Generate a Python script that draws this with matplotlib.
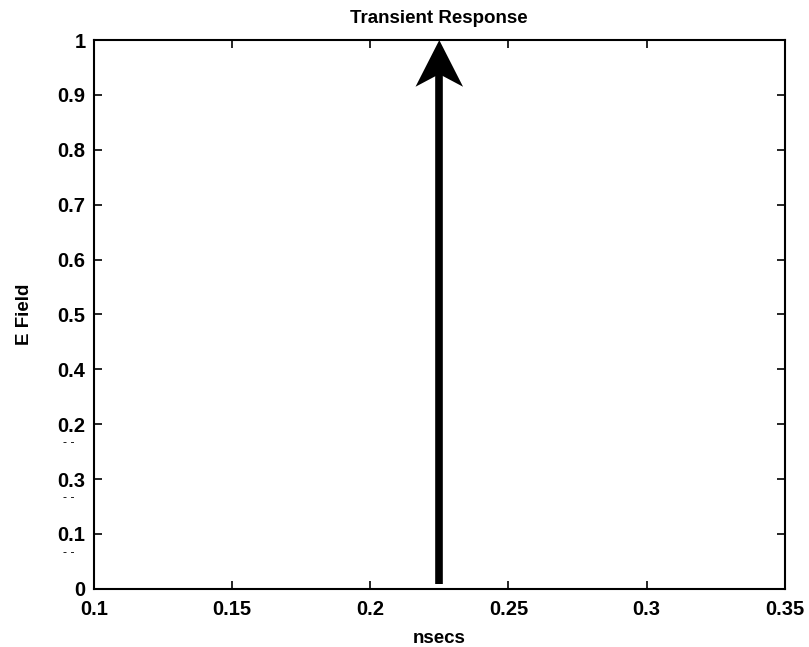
import matplotlib
matplotlib.use('Agg')
import matplotlib.pyplot as plt
import numpy as np

plt.rcParams['font.family'] = ['Liberation Sans', 'DejaVu Sans']

# impulse (arrow) data
impulse_t = [0.225]
impulse_amp = [1.0]

x_ticks = [0.1, 0.15, 0.2, 0.25, 0.3, 0.35]
x_labels = ['0.1', '0.15', '0.2', '0.25', '0.3', '0.35']
y_ticks = [0, 0.1, 0.2, 0.3, 0.4, 0.5, 0.6, 0.7, 0.8, 0.9, 1.0]
# labels as printed in the scanned figure (0.2/0.3 swapped)
y_labels = ['0', '0.1', '0.3', '0.2', '0.4', '0.5', '0.6', '0.7', '0.8', '0.9', '1']

fig = plt.figure(figsize=(8.09, 6.47), dpi=100)
ax = fig.add_axes([0.116, 0.090, 0.854, 0.848])

ax.set_xlim(0.1, 0.35)
ax.set_ylim(0, 1)

# arrowhead size in data units
head_w = 0.0086
head_len = 0.085
notch = 0.062
for t, a in zip(impulse_t, impulse_amp):
    ax.plot([t, t], [0.008, a - notch + 0.01], color='black', lw=5.5,
            solid_capstyle='butt')
    ax.fill([t, t - head_w, t, t + head_w],
            [a, a - head_len, a - notch, a - head_len],
            color='black', lw=0)

ax.set_xticks(x_ticks)
ax.set_xticklabels(x_labels)
ax.set_yticks(y_ticks)
ax.set_yticklabels(y_labels)
ax.tick_params(direction='in', top=True, right=True, labelsize=14.5, length=6, width=1.2, pad=6)
ax.tick_params(axis='x', pad=8)
for lab in ax.get_xticklabels() + ax.get_yticklabels():
    lab.set_fontweight('bold')
for s in ax.spines.values():
    s.set_linewidth(1.5)

ax.set_title('Transient Response', fontsize=13.5, fontweight='bold', pad=12)
ax.set_xlabel('nsecs', fontsize=13.5, fontweight='bold', labelpad=8)
ax.set_ylabel('E Field', fontsize=13.5, fontweight='bold', labelpad=18)

# small scan marks under the lower tick labels
for yv in [0.1, 0.2, 0.3]:
    ax.text(-0.036, yv - 0.034, '- -', transform=ax.get_yaxis_transform(),
            fontsize=9, ha='center', va='center', color='black')

fig.savefig('out.png', dpi=100)
